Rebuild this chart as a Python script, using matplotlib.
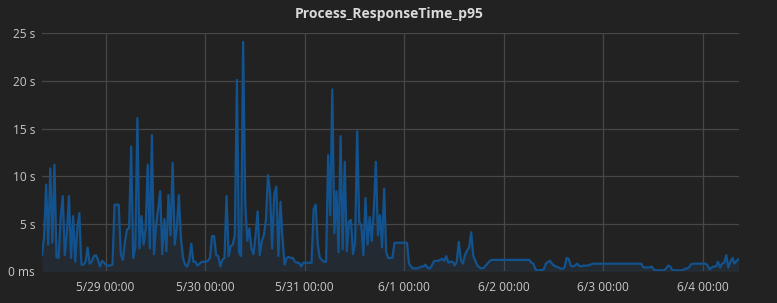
import matplotlib
matplotlib.use("Agg")
import matplotlib.pyplot as plt
from matplotlib.ticker import FixedLocator
import numpy as np
import pandas as pd

title = "Process_ResponseTime_p95"
start_time = "2024-05-28 08:40"
step = "30min"

# p95 response time in seconds, 30-minute samples
seg_0528 = [1.7, 3.6, 9.1, 2.8, 10.8, 3.0, 11.2, 1.5, 1.4, 5.6, 7.9, 1.7, 4.0, 7.9, 1.4, 5.8,
            1.0, 4.5, 6.1, 0.7, 0.7, 1.0, 2.5, 0.8, 1.0, 1.6, 1.7, 1.2, 0.5, 1.1, 0.9, 0.6,
            0.6, 0.6, 0.7, 7.0, 7.0, 7.0, 1.8, 1.2, 3.1, 4.4]
seg_0529 = [4.5, 13.1, 1.4, 2.5, 16.1, 2.4, 5.8, 2.8, 4.5, 11.2, 2.4, 14.3, 1.8, 4.8, 6.5, 8.4,
            1.8, 5.5, 2.1, 8.0, 3.8, 11.4, 2.8, 4.5, 8.0, 3.5, 1.4, 0.7, 0.5, 1.1, 2.9, 1.0,
            1.0, 0.6, 0.8, 1.0, 1.0, 1.0, 1.1, 1.4, 3.7, 3.7]
seg_0530 = [1.7, 1.6, 0.5, 1.2, 1.4, 7.9, 1.6, 2.6, 2.8, 3.8, 20.1, 2.0, 1.6, 24.1, 7.2, 3.2,
            4.5, 2.4, 1.8, 3.8, 6.3, 1.7, 3.1, 3.8, 5.4, 10.1, 8.2, 2.4, 8.1, 8.9, 1.6, 7.3,
            3.5, 0.7, 1.4, 1.5, 1.4, 1.4, 1.0, 0.9, 0.9, 0.5, 0.9]
seg_0531 = [0.9, 0.9, 0.9, 0.9, 6.5, 7.0, 2.8, 1.4, 1.2, 1.0, 1.0, 12.2, 5.9, 19.1, 4.0, 8.4,
            2.0, 14.2, 2.3, 11.5, 2.1, 5.2, 5.4, 1.8, 3.0, 14.7, 5.2, 4.8, 1.7, 7.7, 2.8, 5.7,
            3.2, 6.3, 11.5, 3.8, 5.9, 2.5, 8.7, 2.0, 1.4, 1.4]
seg_0601 = [1.4, 3.0, 3.0, 3.0, 3.0, 3.0, 3.0, 3.0, 0.8, 0.5, 0.3, 0.3, 0.3, 0.4, 0.5, 0.5,
            0.7, 0.35, 0.3, 0.6, 1.05, 1.1, 1.1, 1.2, 1.3, 1.1, 1.6, 0.9, 1.0, 1.0, 0.6, 1.0,
            3.1, 1.2, 0.8, 1.7, 2.2, 2.5, 4.1, 1.6, 1.1, 0.6, 0.4]
seg_0602 = [0.3, 0.35, 0.6, 0.85, 1.1, 1.2, 1.2, 1.2, 1.2, 1.2, 1.2, 1.2, 1.2, 1.2, 1.2, 1.2,
            1.2, 1.2, 1.2, 1.2, 1.2, 1.2, 1.2, 1.2, 0.9, 0.8, 0.2, 0.1, 0.1, 0.15, 0.2, 0.8,
            1.0, 1.1, 0.8, 0.6, 0.5, 0.4, 0.3, 0.25, 0.4, 1.4]
seg_0603 = [1.3, 0.6, 0.5, 0.6, 0.8, 0.6, 0.5, 0.6, 0.6, 0.6, 0.65, 0.75, 0.8, 0.8, 0.8, 0.8,
            0.8, 0.8, 0.8, 0.8, 0.8, 0.8, 0.8, 0.8, 0.8, 0.8, 0.8, 0.8, 0.8, 0.8, 0.8, 0.8,
            0.8, 0.8, 0.8, 0.8, 0.4, 0.4, 0.4, 0.4, 0.5, 0.2]
seg_0604 = [0.1, 0.1, 0.1, 0.1, 0.1, 0.3, 0.6, 0.5, 0.1, 0.1, 0.1, 0.1, 0.1, 0.1, 0.25, 0.3,
            0.4, 0.75, 0.8, 0.8, 0.8, 0.8, 0.8, 0.8, 0.8, 0.6, 0.2, 0.4, 0.5, 0.5, 1.0, 0.4,
            0.8, 0.9, 1.7, 0.4, 1.0, 1.4, 0.8, 1.1, 1.3]

values = np.array(seg_0528 + seg_0529 + seg_0530 + seg_0531 + seg_0601 + seg_0602 + seg_0603 + seg_0604)
times = pd.date_range(start_time, periods=len(values), freq=step)

y_ticks = [0, 5, 10, 15, 20, 25]
y_labels = ["0 ms", "5 s", "10 s", "15 s", "20 s", "25 s"]
x_ticks = pd.to_datetime(["2024-05-29", "2024-05-30", "2024-05-31", "2024-06-01",
                          "2024-06-02", "2024-06-03", "2024-06-04"])
x_labels = ["5/29 00:00", "5/30 00:00", "5/31 00:00", "6/1 00:00",
            "6/2 00:00", "6/3 00:00", "6/4 00:00"]

bg = "#222222"
grid_c = "#474747"
line_c = "#12538f"
text_c = "#c8c9ca"

plt.rcParams['font.family'] = ['Open Sans', 'DejaVu Sans']

fig = plt.figure(figsize=(7.77, 3.03), dpi=100, facecolor=bg)
ax = fig.add_axes([42 / 777, 1 - 271.3 / 303, (738.7 - 42) / 777, (271.3 - 33.3) / 303])
ax.set_facecolor(bg)

ax.fill_between(times, values, 0, color="#2a5a85", alpha=0.16, linewidth=0, zorder=2)
ax.plot(times, values, color=line_c, linewidth=1.6, zorder=3)

ax.set_xlim(times[0], times[-1])
ax.set_ylim(0, 25)

ax.yaxis.set_major_locator(FixedLocator(y_ticks))
ax.set_yticklabels(y_labels)
ax.set_xticks(x_ticks)
ax.set_xticklabels(x_labels)

ax.grid(True, color=grid_c, linewidth=0.9, zorder=1)
for s in ax.spines.values():
    s.set_visible(False)
ax.tick_params(axis='both', length=0, colors=text_c, labelsize=8.6)
ax.tick_params(axis='y', pad=5)
ax.tick_params(axis='x', pad=7)

fig.text(0.5015, 1 - 14 / 303, title, ha='center', va='center', color="#d8d9da",
         fontsize=10, fontweight='bold')

fig.savefig("out.png", dpi=100, facecolor=bg)
